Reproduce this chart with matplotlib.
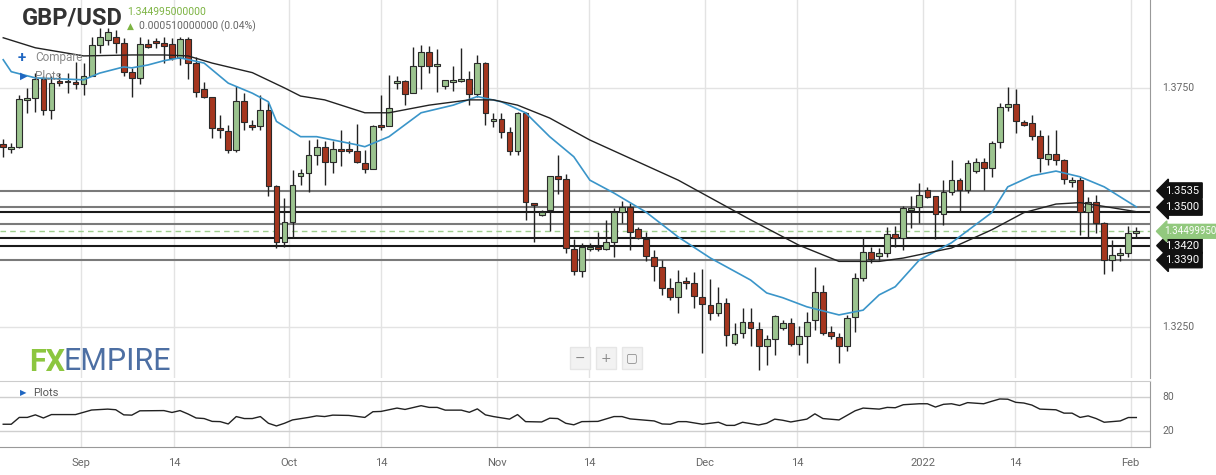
import matplotlib
matplotlib.use("Agg")
import matplotlib.pyplot as plt
import numpy as np

# ---------------- data ----------------
opens = [1.3632,1.3622,1.3627,1.3724,1.3729,1.3768,1.3703,1.3765,1.3765,1.3763,
         1.3758,1.3776,1.3840,1.3850,1.3857,1.3843,1.3783,1.3770,1.3842,1.3849,
         1.3843,1.3842,1.3812,1.3852,1.3802,1.3747,1.3732,1.3666,1.3659,1.3620,
         1.3723,1.3672,1.3671,1.3704,1.3545,1.3428,1.3470,1.3566,1.3573,1.3609,
         1.3627,1.3594,1.3622,1.3622,1.3617,1.3592,1.3580,1.3673,1.3671,1.3760,
         1.3765,1.3740,1.3796,1.3825,1.3796,1.3753,1.3762,1.3764,1.3768,1.3737,
         1.3802,1.3681,1.3685,1.3658,1.3619,1.3697,1.3509,1.3484,1.3494,1.3566,
         1.3560,1.3413,1.3366,1.3413,1.3417,1.3412,1.3427,1.3491,1.3500,1.3454,
         1.3433,1.3397,1.3376,1.3331,1.3313,1.3346,1.3341,1.3313,1.3296,1.3279,
         1.3300,1.3217,1.3237,1.3261,1.3245,1.3209,1.3224,1.3247,1.3258,1.3214,
         1.3231,1.3265,1.3323,1.3240,1.3228,1.3210,1.3270,1.3352,1.3406,1.3398,
         1.3404,1.3444,1.3435,1.3494,1.3500,1.3536,1.3524,1.3486,1.3533,1.3557,
         1.3536,1.3577,1.3594,1.3582,1.3636,1.3710,1.3716,1.3679,1.3676,1.3650,
         1.3602,1.3612,1.3599,1.3553,1.3557,1.3490,1.3511,1.3468,1.3390,1.3400,
         1.3404,1.3446]
highs = [1.3643,1.3635,1.3735,1.3749,1.3781,1.3774,1.3774,1.3781,1.3782,1.3805,
         1.3802,1.3857,1.3875,1.3875,1.3871,1.3854,1.3792,1.3857,1.3852,1.3854,
         1.3857,1.3854,1.3857,1.3857,1.3815,1.3763,1.3732,1.3693,1.3673,1.3753,
         1.3739,1.3683,1.3735,1.3721,1.3547,1.3520,1.3578,1.3580,1.3641,1.3643,
         1.3638,1.3638,1.3662,1.3638,1.3675,1.3620,1.3673,1.3735,1.3777,1.3774,
         1.3767,1.3836,1.3840,1.3838,1.3831,1.3767,1.3795,1.3833,1.3786,1.3819,
         1.3805,1.3698,1.3698,1.3669,1.3700,1.3700,1.3510,1.3495,1.3566,1.3609,
         1.3570,1.3434,1.3425,1.3426,1.3449,1.3474,1.3498,1.3514,1.3509,1.3460,
         1.3449,1.3411,1.3390,1.3352,1.3368,1.3355,1.3364,1.3371,1.3351,1.3334,
         1.3310,1.3258,1.3289,1.3289,1.3261,1.3233,1.3275,1.3265,1.3268,1.3251,
         1.3282,1.3375,1.3338,1.3251,1.3237,1.3275,1.3362,1.3439,1.3418,1.3414,
         1.3460,1.3461,1.3502,1.3523,1.3552,1.3543,1.3524,1.3557,1.3599,1.3561,
         1.3599,1.3603,1.3603,1.3639,1.3718,1.3751,1.3747,1.3683,1.3693,1.3662,
         1.3652,1.3663,1.3601,1.3564,1.3564,1.3521,1.3526,1.3470,1.3432,1.3414,
         1.3462,1.3460]
lows = [1.3606,1.3613,1.3625,1.3698,1.3700,1.3693,1.3684,1.3754,1.3739,1.3747,
        1.3735,1.3774,1.3823,1.3840,1.3823,1.3774,1.3732,1.3758,1.3834,1.3834,
        1.3802,1.3808,1.3798,1.3768,1.3732,1.3729,1.3645,1.3645,1.3613,1.3615,
        1.3662,1.3662,1.3662,1.3523,1.3414,1.3418,1.3435,1.3547,1.3533,1.3589,
        1.3547,1.3573,1.3587,1.3613,1.3592,1.3571,1.3580,1.3662,1.3671,1.3747,
        1.3714,1.3740,1.3747,1.3781,1.3742,1.3747,1.3744,1.3763,1.3714,1.3732,
        1.3673,1.3669,1.3645,1.3610,1.3610,1.3474,1.3427,1.3481,1.3451,1.3528,
        1.3405,1.3359,1.3355,1.3409,1.3408,1.3411,1.3397,1.3467,1.3411,1.3433,
        1.3388,1.3345,1.3317,1.3306,1.3279,1.3329,1.3289,1.3195,1.3265,1.3272,
        1.3211,1.3212,1.3226,1.3211,1.3160,1.3171,1.3192,1.3244,1.3209,1.3192,
        1.3174,1.3244,1.3233,1.3224,1.3175,1.3200,1.3240,1.3347,1.3383,1.3390,
        1.3397,1.3418,1.3411,1.3456,1.3468,1.3519,1.3433,1.3463,1.3526,1.3491,
        1.3530,1.3571,1.3536,1.3564,1.3624,1.3702,1.3656,1.3670,1.3640,1.3575,
        1.3589,1.3589,1.3549,1.3542,1.3442,1.3438,1.3446,1.3361,1.3366,1.3387,
        1.3397,1.3435]
closes = [1.3627,1.3626,1.3726,1.3729,1.3768,1.3703,1.3760,1.3760,1.3762,1.3758,
          1.3774,1.3840,1.3857,1.3867,1.3843,1.3784,1.3770,1.3842,1.3835,1.3843,
          1.3838,1.3812,1.3852,1.3802,1.3742,1.3732,1.3666,1.3661,1.3620,1.3723,
          1.3678,1.3668,1.3704,1.3545,1.3428,1.3470,1.3547,1.3571,1.3609,1.3627,
          1.3594,1.3622,1.3618,1.3618,1.3594,1.3580,1.3671,1.3668,1.3707,1.3765,
          1.3737,1.3796,1.3825,1.3795,1.3800,1.3767,1.3767,1.3768,1.3737,1.3802,
          1.3697,1.3685,1.3658,1.3619,1.3697,1.3511,1.3504,1.3491,1.3566,1.3560,
          1.3414,1.3366,1.3417,1.3417,1.3412,1.3427,1.3490,1.3500,1.3448,1.3435,
          1.3399,1.3378,1.3331,1.3313,1.3343,1.3341,1.3315,1.3298,1.3279,1.3300,
          1.3232,1.3235,1.3261,1.3247,1.3209,1.3224,1.3273,1.3258,1.3214,1.3231,
          1.3261,1.3323,1.3238,1.3230,1.3210,1.3268,1.3352,1.3406,1.3392,1.3405,
          1.3444,1.3435,1.3498,1.3498,1.3526,1.3522,1.3486,1.3532,1.3557,1.3536,
          1.3592,1.3594,1.3582,1.3634,1.3710,1.3716,1.3680,1.3673,1.3650,1.3603,
          1.3612,1.3599,1.3559,1.3557,1.3490,1.3511,1.3468,1.3390,1.3401,1.3405,
          1.3446,1.3450]

ma_fast_idx = [0,1,4,10,12,15,16,18,20,22,25,28,31,33,34,37,39,44,45,48,52,56,59,62,65,68,71,73,76,80,
               84,88,93,95,97,100,104,107,109,111,114,118,123,125,128,131,134,137,141]
ma_fast = [1.3809,1.3784,1.3771,1.3767,1.3781,1.3794,1.3792,1.3798,1.3807,1.3813,1.3802,1.3760,1.3739,
           1.3721,1.3680,1.3648,1.3648,1.3631,1.3627,1.3648,1.3698,1.3714,1.3732,1.3721,1.3698,1.3648,
           1.3606,1.3557,1.3530,1.3490,1.3438,1.3394,1.3348,1.3321,1.3311,1.3292,1.3275,1.3285,1.3317,
           1.3334,1.3390,1.3426,1.3489,1.3543,1.3566,1.3576,1.3564,1.3543,1.3501]
ma_slow_idx = [0,4,10,16,20,23,26,31,35,37,40,45,48,53,58,61,64,68,73,84,93,99,104,109,112,118,123,127,
               131,134,137,141]
ma_slow = [1.3855,1.3834,1.3817,1.3819,1.3819,1.3817,1.3802,1.3782,1.3750,1.3733,1.3725,1.3698,1.3698,
           1.3714,1.3725,1.3725,1.3714,1.3687,1.3641,1.3557,1.3474,1.3421,1.3387,1.3387,1.3394,1.3415,
           1.3453,1.3489,1.3507,1.3510,1.3502,1.3491]

osc_idx = [0,1,2,3,4,5,6,9,11,13,14,15,16,17,20,21,22,23,24,25,26,27,28,29,30,31,32,33,34,35,36,38,39,
           40,41,43,45,46,47,49,50,52,53,54,55,57,58,59,60,61,63,64,65,67,68,69,70,71,72,74,76,77,78,81,
           82,83,84,85,87,89,90,91,92,94,95,96,97,98,100,101,102,104,106,107,109,110,111,112,114,115,116,
           117,118,119,120,122,123,124,125,126,127,128,129,131,132,133,134,135,136,137,139,140,141]
osc_val = [32,32,44,44,48.5,43,49,49,57,58.6,57.5,48.5,48,55.6,56,52.7,56,50,43,42,37,36.6,32.5,45.5,42,
           42,45.5,33.7,29,33.7,39.6,44,46.7,45.5,48,47.5,44,54,54.5,60.4,58,64.6,61.6,61.6,56.8,56.8,53,
           59,48.5,45.5,41,49,36.6,36,42.6,42,33.7,31,36.6,37,45.5,45.5,41.4,37.8,32.5,32,36.6,36.6,32,
           35.5,30,30,35.5,30.7,33.7,41,39,36,41,50.3,42,39.6,55.6,60.4,58.6,61.6,61,66.3,68,68,62.2,67,68,
           65,70,68,72.3,76.4,76,70.5,69.3,65.7,58.6,57.4,51.5,51.5,44,46.7,42,35.5,37.8,43.8,43.8]

level_prices = [1.3535, 1.3500, 1.3490, 1.3465, 1.3436, 1.3420, 1.3390]
level_dark = [False, False, True, False, True, True, False]
tag_prices = [1.3535, 1.3500, 1.3420, 1.3390]
last_price = 1.3449950

date_tick_pos = [9.7, 21.3, 35.6, 47.0, 61.4, 72.9, 87.3, 98.8, 114.4, 125.9, 140.3]
date_tick_labels = ["Sep", "14", "Oct", "14", "Nov", "14", "Dec", "14", "2022", "14", "Feb"]
price_ticks = [1.3250, 1.3750]
osc_ticks = [20, 80]

# ---------------- figure ----------------
W, H = 1216, 475
fig = plt.figure(figsize=(W/100, H/100), dpi=100)
plt.rcParams["font.family"] = "Roboto"
right = 1150 / W
ax = fig.add_axes([0, (H-378)/H, right, 378/H])
ax2 = fig.add_axes([0, (H-447)/H, right, 66/H])

x = np.arange(len(opens))
o = np.array(opens); c = np.array(closes); hi = np.array(highs); lo = np.array(lows)
up = c >= o
grid_c = "#e3e3e3"
for a in (ax, ax2):
    for p in date_tick_pos:
        a.axvline(p, color=grid_c, lw=1, zorder=0)
    a.set_xlim(-0.4, 142.7)
for p in price_ticks:
    ax.axhline(p, color=grid_c, lw=1, zorder=0)

ax.vlines(x, lo, hi, color="#222222", lw=1, zorder=2)
body_lo = np.minimum(o, c); body_h = np.maximum(np.abs(c - o), 0.00035)
ax.bar(x[up], body_h[up], bottom=body_lo[up], width=0.72, color="#9cc48f",
       edgecolor="#2a2a2a", lw=0.8, zorder=3)
ax.bar(x[~up], body_h[~up], bottom=body_lo[~up], width=0.72, color="#a5361f",
       edgecolor="#2a2a2a", lw=0.8, zorder=3)

ax.plot(ma_fast_idx, ma_fast, color="#3a95c9", lw=1.2, zorder=4)
ax.plot(ma_slow_idx, ma_slow, color="#222222", lw=1.0, zorder=4)

for p, d in zip(level_prices, level_dark):
    ax.axhline(p, color="#1a1a1a" if d else "#7a7a7a", lw=1.5, zorder=1)
ax.axhline(last_price, color="#9fcf8f", lw=1, ls=(0, (4, 3)), zorder=1)

ax.set_ylim(1.3143, 1.3934)
ax.set_xticks([]); ax.set_yticks([])
for s in ["left", "top", "bottom"]:
    ax.spines[s].set_visible(False)
ax.spines["right"].set_color("#999999")

for p in price_ticks:
    ax.annotate(f"{p:.4f}", xy=(1.0, p), xycoords=("axes fraction", "data"),
                xytext=(9, 0), textcoords="offset points", va="center", ha="left",
                fontsize=7.5, color="#666666")
for p in tag_prices:
    ax.annotate(f"{p:.4f}", xy=(1.0, p), xycoords=("axes fraction", "data"),
                xytext=(11, 0), textcoords="offset points", va="center", ha="left",
                fontsize=8, color="white",
                bbox=dict(boxstyle="larrow,pad=0.25", fc="#111111", ec="#111111"))
ax.annotate("1.34499950", xy=(1.0, last_price), xycoords=("axes fraction", "data"),
            xytext=(10, 0), textcoords="offset points", va="center", ha="left",
            fontsize=7, color="white",
            bbox=dict(boxstyle="larrow,pad=0.2", fc="#92c97e", ec="#92c97e"))

# oscillator panel
ax2.plot(osc_idx, osc_val, color="#222222", lw=1.0)
for v in osc_ticks:
    ax2.axhline(v, color="#cfcfcf", lw=1, zorder=0)
ax2.set_ylim(-8, 108)
ax2.set_yticks([])
ax2.set_xticks(date_tick_pos)
ax2.set_xticklabels(date_tick_labels, fontsize=8, color="#666666")
ax2.tick_params(axis="x", length=0, pad=8)
ax2.spines["left"].set_visible(False)
ax2.spines["bottom"].set_color("#999999")
ax2.spines["right"].set_color("#999999")
ax2.spines["top"].set_color("#cccccc")
for v in osc_ticks:
    ax2.annotate(str(v), xy=(1.0, v), xycoords=("axes fraction", "data"),
                 xytext=(9, 0), textcoords="offset points", va="center", ha="left",
                 fontsize=7.5, color="#666666")

# header and overlay texts
sym = "DejaVu Sans"
fig.text(22/W, 1-18/H, "GBP/USD", fontsize=17, fontweight="bold", color="#333333", va="center")
fig.text(127/W, 1-12/H, "1.344995000000", fontsize=7.5, color="#7cb342", va="center")
fig.text(127/W, 1-26/H, "\u25B2", fontsize=6.5, color="#7cb342", va="center", family=sym)
fig.text(139/W, 1-26/H, "0.000510000000 (0.04%)", fontsize=7.5, color="#666666", va="center")
fig.text(18/W, 1-58/H, "+", fontsize=11, color="#1f66c1", va="center", fontweight="bold")
fig.text(35/W, 1-58/H, "Compare", fontsize=8.5, color="#888888", va="center")
fig.text(20/W, 1-76/H, "\u25B6", fontsize=7, color="#1f66c1", va="center", family=sym)
fig.text(35/W, 1-76/H, "Plots", fontsize=8.5, color="#888888", va="center")
fig.text(20/W, 1-393/H, "\u25B6", fontsize=6, color="#1f66c1", va="center", family=sym)
fig.text(33/W, 1-393/H, "Plots", fontsize=8, color="#555555", va="center")
fig.text(29/W, 1-362/H, "FX", fontsize=22, color="#8cc63f", va="center", fontweight="bold")
fig.text(64/W, 1-362/H, "EMPIRE", fontsize=22, color="#4d6fa3", va="center")
for xx, s in [(580, "\u2212"), (606, "+"), (632, "\u25A2")]:
    fig.text(xx/W, 1-358/H, s, fontsize=9, color="#888888", va="center", ha="center",
             family=sym,
             bbox=dict(boxstyle="square,pad=0.35", fc="#f2f2f2", ec="#e6e6e6"))

fig.savefig("out.png", dpi=100)
